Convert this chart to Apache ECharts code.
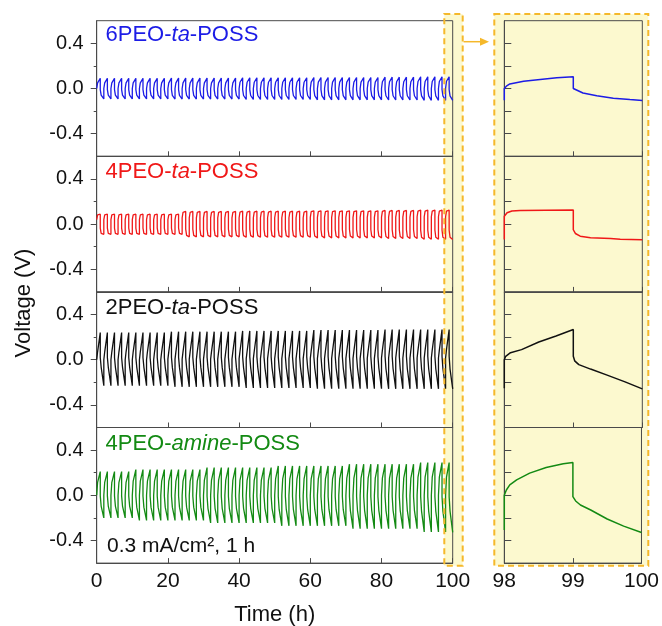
<!DOCTYPE html>
<html><head><meta charset="utf-8">
<script src="https://cdn.jsdelivr.net/npm/echarts@6/dist/echarts.min.js"></script>
<style>html,body{margin:0;padding:0;background:#fff}#c{width:662px;height:626px}</style>
</head><body><div id="c"></div>
<script>
// ---------------- DATA ----------------
// label text split into [normal, italic, normal]
const LABELS = [['6PEO-', 'ta', '-POSS'], ['4PEO-', 'ta', '-POSS'], ['2PEO-', 'ta', '-POSS'], ['4PEO-', 'amine', '-POSS']];
const COLORS = ['#1c1ce6', '#f01818', '#111111', '#138a13'];
const NOTE = '0.3 mA/cm², 1 h';
const X_TITLE = 'Time (h)';
const Y_TITLE = 'Voltage (V)';
const Y_LABELS = [-0.4, 0, 0.4];
const Y_MINOR = [-0.2, 0.2];

// sample times inside each 2-h cycle (h): after up-step, 0.25 h, end of charge, after down-step, 1.25 h, end of discharge
const PHASE = [0, 0.25, 1, 1, 1.25, 2];

// one row per cycle (50 cycles, 0-100 h): voltages (V) at the PHASE times
const blueCycles = [
[0,.05,.09,-.01,-.058,-.092],[0,.05,.09,-.01,-.058,-.092],[0,.05,.09,-.01,-.058,-.092],[0,.05,.09,-.01,-.058,-.092],[0,.05,.09,-.01,-.058,-.092],
[0,.05,.09,-.01,-.058,-.092],[0,.05,.09,-.01,-.058,-.092],[0,.05,.09,-.01,-.058,-.092],[0,.05,.09,-.01,-.058,-.092],[0,.05,.09,-.01,-.058,-.092],
[0,.05,.092,-.01,-.06,-.094],[0,.05,.092,-.01,-.06,-.094],[0,.05,.092,-.01,-.06,-.094],[0,.05,.092,-.01,-.06,-.094],[0,.05,.092,-.01,-.06,-.094],
[0,.05,.092,-.01,-.06,-.094],[0,.05,.092,-.01,-.06,-.094],[0,.05,.092,-.01,-.06,-.094],[0,.05,.092,-.01,-.06,-.094],[0,.05,.092,-.01,-.06,-.094],
[0,.055,.095,-.01,-.062,-.097],[0,.055,.095,-.01,-.062,-.097],[0,.055,.095,-.01,-.062,-.097],[0,.055,.095,-.01,-.062,-.097],[0,.055,.095,-.01,-.062,-.097],
[0,.055,.095,-.01,-.062,-.097],[0,.055,.095,-.01,-.062,-.097],[0,.055,.095,-.01,-.062,-.097],[0,.055,.095,-.01,-.062,-.097],[0,.055,.095,-.01,-.062,-.097],
[0,.057,.097,-.01,-.063,-.1],[0,.057,.097,-.01,-.063,-.1],[0,.057,.097,-.01,-.063,-.1],[0,.057,.097,-.01,-.063,-.1],[0,.057,.097,-.01,-.063,-.1],
[0,.057,.097,-.01,-.063,-.1],[0,.057,.097,-.01,-.063,-.1],[0,.057,.097,-.01,-.063,-.1],[0,.057,.097,-.01,-.063,-.1],[0,.057,.097,-.01,-.063,-.1],
[0,.06,.1,-.01,-.064,-.102],[0,.06,.1,-.01,-.064,-.102],[0,.06,.1,-.01,-.064,-.102],[0,.06,.1,-.01,-.064,-.102],[0,.06,.1,-.01,-.064,-.102],
[0,.062,.103,-.01,-.065,-.105],[0,.062,.103,-.01,-.065,-.105],[0,.062,.103,-.01,-.065,-.105],[0,.062,.103,-.01,-.065,-.105],[0,.064,.103,-.01,-.065,-.105]
];
const redCycles = [
[.04,.082,.088,-.035,-.082,-.09],[.04,.082,.088,-.035,-.082,-.09],[.04,.082,.088,-.035,-.082,-.09],[.04,.082,.088,-.035,-.082,-.09],[.04,.082,.088,-.035,-.082,-.09],
[.04,.082,.088,-.035,-.082,-.09],[.04,.082,.088,-.035,-.082,-.09],[.04,.082,.088,-.035,-.082,-.09],[.04,.082,.088,-.035,-.082,-.09],[.04,.082,.088,-.035,-.082,-.09],
[.04,.082,.088,-.035,-.082,-.09],[.04,.082,.088,-.035,-.082,-.09],[.055,.104,.112,-.045,-.1,-.113],[.055,.104,.112,-.045,-.1,-.113],[.055,.104,.112,-.045,-.1,-.113],
[.055,.104,.112,-.045,-.1,-.113],[.055,.104,.112,-.045,-.1,-.113],[.055,.104,.112,-.045,-.1,-.113],[.055,.104,.112,-.045,-.1,-.113],[.055,.104,.112,-.045,-.1,-.113],
[.056,.106,.114,-.046,-.102,-.116],[.056,.106,.114,-.046,-.102,-.116],[.056,.106,.114,-.046,-.102,-.116],[.056,.106,.114,-.046,-.102,-.116],[.056,.106,.114,-.046,-.102,-.116],
[.056,.106,.114,-.046,-.102,-.116],[.056,.106,.114,-.046,-.102,-.116],[.056,.106,.114,-.046,-.102,-.116],[.056,.106,.114,-.046,-.102,-.116],[.056,.106,.114,-.046,-.102,-.116],
[.06,.11,.118,-.048,-.106,-.122],[.06,.11,.118,-.048,-.106,-.122],[.06,.11,.118,-.048,-.106,-.122],[.06,.11,.118,-.048,-.106,-.122],[.06,.11,.118,-.048,-.106,-.122],
[.06,.11,.118,-.048,-.106,-.122],[.06,.11,.118,-.048,-.106,-.122],[.06,.11,.118,-.048,-.106,-.122],[.06,.11,.118,-.048,-.106,-.122],[.06,.11,.118,-.048,-.106,-.122],
[.062,.112,.121,-.05,-.11,-.128],[.062,.112,.121,-.05,-.11,-.128],[.062,.112,.121,-.05,-.11,-.128],[.062,.112,.121,-.05,-.11,-.128],[.062,.112,.121,-.05,-.11,-.128],
[.065,.115,.124,-.053,-.116,-.135],[.065,.115,.124,-.053,-.116,-.135],[.065,.115,.124,-.053,-.116,-.135],[.065,.115,.124,-.053,-.116,-.135],[.065,.115,.124,-.053,-.116,-.137]
];
const blackCycles = [
[0,.07,.24,.02,-.065,-.23],[0,.07,.24,.02,-.065,-.23],[0,.07,.24,.02,-.065,-.23],[0,.07,.24,.02,-.065,-.23],[0,.07,.24,.02,-.065,-.23],
[0,.07,.24,.02,-.065,-.23],[0,.07,.24,.02,-.065,-.23],[0,.07,.24,.02,-.065,-.23],[0,.07,.24,.02,-.065,-.23],[0,.07,.24,.02,-.065,-.23],
[.005,.072,.248,.022,-.068,-.24],[.005,.072,.248,.022,-.068,-.24],[.005,.072,.248,.022,-.068,-.24],[.005,.072,.248,.022,-.068,-.24],[.005,.072,.248,.022,-.068,-.24],
[.005,.072,.248,.022,-.068,-.24],[.005,.072,.248,.022,-.068,-.24],[.005,.072,.248,.022,-.068,-.24],[.005,.072,.248,.022,-.068,-.24],[.005,.072,.248,.022,-.068,-.24],
[.01,.075,.255,.025,-.07,-.25],[.01,.075,.255,.025,-.07,-.25],[.01,.075,.255,.025,-.07,-.25],[.01,.075,.255,.025,-.07,-.25],[.01,.075,.255,.025,-.07,-.25],
[.01,.075,.255,.025,-.07,-.25],[.01,.075,.255,.025,-.07,-.25],[.01,.075,.255,.025,-.07,-.25],[.01,.075,.255,.025,-.07,-.25],[.01,.075,.255,.025,-.07,-.25],
[.012,.078,.262,.028,-.072,-.256],[.012,.078,.262,.028,-.072,-.256],[.012,.078,.262,.028,-.072,-.256],[.012,.078,.262,.028,-.072,-.256],[.012,.078,.262,.028,-.072,-.256],
[.012,.078,.262,.028,-.072,-.256],[.012,.078,.262,.028,-.072,-.256],[.012,.078,.262,.028,-.072,-.256],[.012,.078,.262,.028,-.072,-.256],[.012,.078,.262,.028,-.072,-.256],
[.015,.085,.267,.03,-.08,-.258],[.015,.085,.267,.03,-.08,-.258],[.015,.085,.267,.03,-.08,-.258],[.015,.085,.267,.03,-.08,-.258],[.015,.085,.267,.03,-.08,-.258],
[.015,.085,.267,.03,-.08,-.258],[.015,.085,.267,.03,-.08,-.258],[.015,.085,.267,.03,-.08,-.258],[.015,.085,.267,.03,-.08,-.258],[.015,.089,.267,.03,-.083,-.258]
];
const greenCycles = [
[0,.115,.21,-.005,-.095,-.2],[0,.115,.21,-.005,-.095,-.2],[0,.115,.21,-.005,-.095,-.2],[0,.115,.21,-.005,-.095,-.2],[0,.115,.21,-.005,-.095,-.2],
[0,.125,.228,-.006,-.105,-.222],[0,.125,.228,-.006,-.105,-.222],[0,.125,.228,-.006,-.105,-.222],[0,.125,.228,-.006,-.105,-.222],[0,.125,.228,-.006,-.105,-.222],
[0,.125,.228,-.006,-.105,-.222],[0,.125,.228,-.006,-.105,-.222],[0,.125,.228,-.006,-.105,-.222],[0,.125,.228,-.006,-.105,-.222],[0,.125,.228,-.006,-.105,-.222],
[0,.135,.245,-.008,-.115,-.245],[0,.135,.245,-.008,-.115,-.245],[0,.135,.245,-.008,-.115,-.245],[0,.135,.245,-.008,-.115,-.245],[0,.135,.245,-.008,-.115,-.245],
[0,.135,.245,-.008,-.115,-.245],[0,.135,.245,-.008,-.115,-.245],[0,.135,.245,-.008,-.115,-.245],[0,.135,.245,-.008,-.115,-.245],[0,.135,.245,-.008,-.115,-.245],
[0,.145,.26,-.01,-.125,-.27],[0,.145,.26,-.01,-.125,-.27],[0,.145,.26,-.01,-.125,-.27],[0,.145,.26,-.01,-.125,-.27],[0,.145,.26,-.01,-.125,-.27],
[0,.145,.26,-.01,-.125,-.27],[0,.145,.26,-.01,-.125,-.27],[0,.145,.26,-.01,-.125,-.27],[0,.145,.26,-.01,-.125,-.27],[0,.145,.26,-.01,-.125,-.27],
[0,.152,.275,-.01,-.133,-.295],[0,.152,.275,-.01,-.133,-.295],[0,.152,.275,-.01,-.133,-.295],[0,.152,.275,-.01,-.133,-.295],[0,.152,.275,-.01,-.133,-.295],
[0,.152,.275,-.01,-.133,-.295],[0,.152,.275,-.01,-.133,-.295],[0,.152,.275,-.01,-.133,-.295],[0,.152,.275,-.01,-.133,-.295],[0,.152,.275,-.01,-.133,-.295],
[0,.16,.29,-.012,-.14,-.325],[0,.16,.29,-.012,-.14,-.325],[0,.16,.29,-.012,-.14,-.325],[0,.16,.29,-.012,-.14,-.325],[0,.16,.29,-.012,-.14,-.328]
];

// zoomed last cycle, 98-100 h: [time (h), voltage (V)]
const blueDetail = [[98,-0.104],[98,0.0],[98.03,0.02],[98.08,0.04],[98.28,0.064],[98.52,0.08],[98.76,0.095],[99,0.103],[99,0.0],[99.02,-0.015],[99.14,-0.04],[99.34,-0.065],[99.58,-0.086],[99.82,-0.098],[100,-0.106]];
const redDetail = [[98,-0.136],[98,0.07],[98.04,0.1],[98.11,0.116],[98.23,0.121],[98.6,0.123],[99,0.124],[99,-0.05],[99.03,-0.083],[99.1,-0.107],[99.25,-0.121],[99.54,-0.127],[99.68,-0.133],[100,-0.138]];
const blackDetail = [[98,-0.252],[98,0.0],[98.02,0.03],[98.09,0.062],[98.25,0.089],[98.5,0.157],[98.75,0.21],[99,0.267],[99,0.03],[99.02,-0.01],[99.08,-0.044],[99.25,-0.083],[99.5,-0.139],[99.75,-0.196],[100,-0.258]];
const greenDetail = [[98,-0.308],[98,0.0],[98.03,0.047],[98.08,0.092],[98.18,0.136],[98.37,0.196],[98.61,0.246],[98.86,0.279],[99,0.29],[99,-0.012],[99.04,-0.05],[99.11,-0.086],[99.26,-0.13],[99.5,-0.21],[99.74,-0.273],[100,-0.329]];

// ---------------- BUILD ----------------
const CYCLES = [blueCycles, redCycles, blackCycles, greenCycles];
const DETAILS = [blueDetail, redDetail, blackDetail, greenDetail];
function toPoints(rows) {
  const pts = [];
  rows.forEach((r, k) => { PHASE.forEach((p, j) => pts.push([2 * k + p, r[j]])); });
  return pts;
}

const FONT = '"Liberation Sans", Arial, sans-serif';
const AX = '#4a4a4a';
const TOP0 = 20.7, PH = 135.6;
const L_LEFT = 96.7, L_W = 356, R_LEFT = 504.3, R_W = 138;

const grid = [], xAxis = [], yAxis = [], series = [];
for (let i = 0; i < 4; i++) {
  grid.push({ left: L_LEFT, top: TOP0 + i * PH, width: L_W, height: PH, show: true, borderColor: AX, borderWidth: 1, backgroundColor: 'transparent' });
}
for (let i = 0; i < 4; i++) {
  grid.push({ left: R_LEFT, top: TOP0 + i * PH, width: R_W, height: PH, show: true, borderColor: AX, borderWidth: 1, backgroundColor: 'transparent' });
}
for (let i = 0; i < 4; i++) {
  xAxis.push({ gridIndex: i, type: 'value', min: 0, max: 100, interval: 20, position: 'bottom',
    axisLine: { show: true, onZero: false, lineStyle: { color: AX } },
    axisTick: { show: true, inside: true, length: 5, lineStyle: { color: AX } },
    axisLabel: { show: i === 3, fontSize: 21, color: '#111', margin: 8, fontFamily: FONT },
    splitLine: { show: false } });
}
for (let i = 0; i < 4; i++) {
  xAxis.push({ gridIndex: 4 + i, type: 'value', min: 98, max: 100, interval: 1, position: 'bottom',
    axisLine: { show: true, onZero: false, lineStyle: { color: AX } },
    axisTick: { show: true, inside: true, length: 5, lineStyle: { color: AX } },
    axisLabel: { show: i === 3, fontSize: 21, color: '#111', margin: 8, fontFamily: FONT },
    splitLine: { show: false } });
}
for (let i = 0; i < 4; i++) {
  yAxis.push({ gridIndex: i, type: 'value', min: -0.6, max: 0.6, position: 'left',
    axisLine: { show: true, onZero: false, lineStyle: { color: AX } },
    axisTick: { show: true, length: 6, customValues: Y_LABELS, lineStyle: { color: AX } },
    axisLabel: { show: true, customValues: Y_LABELS, formatter: v => (+v).toFixed(1), fontSize: 20, color: '#111', margin: 13, fontFamily: FONT },
    splitLine: { show: false } });
}
for (let i = 0; i < 4; i++) {
  yAxis.push({ gridIndex: i, type: 'value', min: -0.6, max: 0.6, position: 'left',
    axisLine: { show: false, onZero: false },
    axisTick: { show: true, length: 3, customValues: Y_MINOR, lineStyle: { color: AX } },
    axisLabel: { show: false }, splitLine: { show: false } });
}
for (let i = 0; i < 4; i++) {
  yAxis.push({ gridIndex: 4 + i, type: 'value', min: -0.6, max: 0.6, position: 'left',
    axisLine: { show: true, onZero: false, lineStyle: { color: AX } },
    axisTick: { show: true, inside: true, length: 7, customValues: [-0.4, -0.2, 0, 0.2, 0.4], lineStyle: { color: AX } },
    axisLabel: { show: false }, splitLine: { show: false } });
}
for (let i = 0; i < 4; i++) {
  series.push({ type: 'line', xAxisIndex: i, yAxisIndex: i, data: toPoints(CYCLES[i]), showSymbol: false,
    lineStyle: { color: COLORS[i], width: 1.3 }, itemStyle: { color: COLORS[i] }, animation: false, silent: true, z: 3 });
  series.push({ type: 'line', xAxisIndex: 4 + i, yAxisIndex: 8 + i, data: DETAILS[i], showSymbol: false,
    lineStyle: { color: COLORS[i], width: 1.5 }, itemStyle: { color: COLORS[i] }, animation: false, silent: true, z: 3 });
}

const YEL = '#fcf9cf', DASH = '#f5b82a';
const graphic = [
  { type: 'rect', z: -5, shape: { x: 444.3, y: 14, width: 18.4, height: 551.7 }, style: { fill: YEL } },
  { type: 'rect', z: -5, shape: { x: 494.3, y: 14, width: 154, height: 551.7 }, style: { fill: YEL } },
  { type: 'rect', z: 50, shape: { x: 444.3, y: 14, width: 18.4, height: 551.7 }, style: { fill: 'none', stroke: DASH, lineWidth: 2, lineDash: [6, 4] } },
  { type: 'rect', z: 50, shape: { x: 494.3, y: 14, width: 154, height: 551.7 }, style: { fill: 'none', stroke: DASH, lineWidth: 2, lineDash: [6, 4] } },
  { type: 'line', z: 50, shape: { x1: 463.5, y1: 41.7, x2: 482, y2: 41.7 }, style: { stroke: DASH, lineWidth: 1.5 } },
  { type: 'polygon', z: 50, shape: { points: [[489, 41.7], [480, 37.7], [480, 45.7]] }, style: { fill: DASH } },
  { type: 'text', z: 60, x: 24, y: 303, rotation: Math.PI / 2,
    style: { text: Y_TITLE, fontSize: 22, fontFamily: FONT, fill: '#111', align: 'center', verticalAlign: 'middle' } },
  { type: 'text', z: 60, x: 274.7, y: 615,
    style: { text: X_TITLE, fontSize: 22, fontFamily: FONT, fill: '#111', align: 'center', verticalAlign: 'middle' } },
  { type: 'text', z: 60, x: 107, y: 546,
    style: { text: NOTE, fontSize: 21, fontFamily: FONT, fill: '#111', align: 'left', verticalAlign: 'middle' } }
];
const LABEL_Y = [35, 171.7, 308.3, 444];
LABELS.forEach((parts, i) => {
  const base = { fontSize: 22, fontFamily: FONT, fill: COLORS[i] };
  graphic.push({ type: 'text', z: 60, x: 105.5, y: LABEL_Y[i],
    style: { text: '{a|' + parts[0] + '}{b|' + parts[1] + '}{a|' + parts[2] + '}', align: 'left', verticalAlign: 'middle',
      rich: { a: Object.assign({}, base), b: Object.assign({ fontStyle: 'italic' }, base) } } });
});

const chart = echarts.init(document.getElementById('c'), null, { renderer: 'canvas' });
chart.setOption({ animation: false, textStyle: { fontFamily: FONT }, grid, xAxis, yAxis, series, graphic });
</script></body></html>
